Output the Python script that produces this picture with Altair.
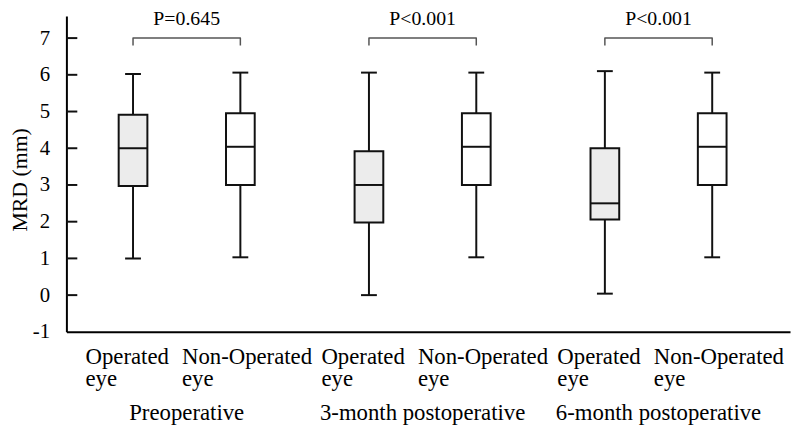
import altair as alt
import pandas as pd

FONT = "Liberation Serif, Times New Roman, DejaVu Serif, serif"

# ---- data ----
groups = ["Preoperative", "3-month postoperative", "6-month postoperative"]
eyes = ["Operated eye", "Non-Operated eye"]
eye_text = ["Operated\neye", "Non-Operated\neye"]
mins = [1.00, 1.03, 0.00, 1.03, 0.04, 1.03]
q1s = [2.97, 3.00, 1.98, 3.00, 2.06, 3.00]
meds = [4.00, 4.04, 3.00, 4.04, 2.50, 4.04]
q3s = [4.91, 4.95, 3.92, 4.95, 4.00, 4.95]
maxs = [6.02, 6.06, 6.06, 6.06, 6.10, 6.06]
p_labels = ["P=0.645", "P<0.001", "P<0.001"]
y_ticks = [-1, 0, 1, 2, 3, 4, 5, 6, 7]
bracket_top = 7.0
bracket_leg = 0.2

box_df = pd.DataFrame({
    "group": [g for g in groups for _ in eyes],
    "eye": eyes * len(groups),
    "label": eye_text * len(groups),
    "lo": mins, "q1": q1s, "med": meds, "q3": q3s, "hi": maxs,
})

br_rows = []
for g in groups:
    br_rows += [
        {"group": g, "eye": eyes[0], "by": bracket_top - bracket_leg, "ord": 0},
        {"group": g, "eye": eyes[0], "by": bracket_top, "ord": 1},
        {"group": g, "eye": eyes[1], "by": bracket_top, "ord": 2},
        {"group": g, "eye": eyes[1], "by": bracket_top - bracket_leg, "ord": 3},
    ]
br_df = pd.DataFrame(br_rows)
p_df = pd.DataFrame({"group": groups, "p": p_labels, "top": [bracket_top] * 3})
tick_df = pd.DataFrame({"v": [t for t in y_ticks if t > y_ticks[0]]})

# ---- shared encodings ----
x_axis = alt.Axis(title=None, labelAngle=0, ticks=False, tickSize=0,
                  labelPadding=89, labelBaseline="alphabetic", labelFont=FONT,
                  labelFontSize=23, labelColor="black", domainColor="black",
                  domainWidth=2, labelLimit=300)
x_scale = alt.Scale(paddingInner=0, paddingOuter=0.0336, align=0.147)


def X():
    return alt.X("group:N", sort=groups, scale=x_scale, axis=x_axis)


def XO():
    return alt.XOffset("eye:N", sort=eyes,
                       scale=alt.Scale(paddingInner=0, paddingOuter=0.099))


y_scale = alt.Scale(domain=[-1, 7.6], nice=False, zero=False)
y_axis = alt.Axis(values=y_ticks, labelExpr="'' + datum.value",
                  title="MRD (mm)", titleX=-35, titleY=165,
                  titleFont=FONT, titleFontSize=22, titleFontWeight="normal",
                  titleColor="black", grid=False, ticks=False, tickSize=0,
                  labelPadding=17, labelFont=FONT, labelFontSize=21,
                  labelColor="black", domainColor="black", domainWidth=2)


def Y(field):
    return alt.Y(f"{field}:Q", scale=y_scale, axis=y_axis)


base = alt.Chart(box_df)
ink = "#111111"

whisker = base.mark_rule(color=ink, strokeWidth=2).encode(
    x=X(), xOffset=XO(), y=Y("lo"), y2="hi")
box = base.mark_bar(size=29, stroke=ink, strokeWidth=2, opacity=1).encode(
    x=X(), xOffset=XO(), y=Y("q1"), y2="q3",
    color=alt.Color("eye:N", scale=alt.Scale(domain=eyes, range=["#ececec", "#ffffff"]),
                    legend=None))
median = base.mark_tick(color=ink, size=29, thickness=2, opacity=1).encode(
    x=X(), xOffset=XO(), y=Y("med"))
cap_lo = base.mark_tick(color=ink, size=16, thickness=2, opacity=1).encode(
    x=X(), xOffset=XO(), y=Y("lo"))
cap_hi = base.mark_tick(color=ink, size=16, thickness=2, opacity=1).encode(
    x=X(), xOffset=XO(), y=Y("hi"))

lbl_op = base.transform_filter(alt.datum.eye == eyes[0]).mark_text(
    align="left", baseline="alphabetic", dx=-48, lineBreak="\n", lineHeight=23,
    font=FONT, fontSize=23, color="black").encode(
    x=X(), xOffset=XO(), y=alt.value(351), text="label:N")
lbl_non = base.transform_filter(alt.datum.eye == eyes[1]).mark_text(
    align="left", baseline="alphabetic", dx=-59, lineBreak="\n", lineHeight=23,
    font=FONT, fontSize=23, color="black").encode(
    x=X(), xOffset=XO(), y=alt.value(351), text="label:N")

bracket = alt.Chart(br_df).mark_line(color="#555555", strokeWidth=1.5,
                                     strokeJoin="round").encode(
    x=X(), xOffset=XO(), y=Y("by"), order=alt.Order("ord:Q"), detail="group:N")
ptext = alt.Chart(p_df).mark_text(baseline="alphabetic", dy=-13, font=FONT,
                                  fontSize=20, color="black").encode(
    x=X(), y=Y("top"), text="p:N")

yticks = alt.Chart(tick_df).mark_rule(color=ink, strokeWidth=2).encode(
    y=Y("v"), x=alt.value(0), x2=alt.value(11))

chart = alt.layer(
    whisker, box, median, cap_lo, cap_hi, bracket, ptext, lbl_op, lbl_non, yticks
).properties(
    width=731, height=319,
    autosize=alt.AutoSizeParams(type="none"),
    padding={"left": 59, "top": 6, "right": 2, "bottom": 95},
).configure_view(stroke=None)

chart.save("out.html", embed_options={"renderer": "svg", "actions": False})
